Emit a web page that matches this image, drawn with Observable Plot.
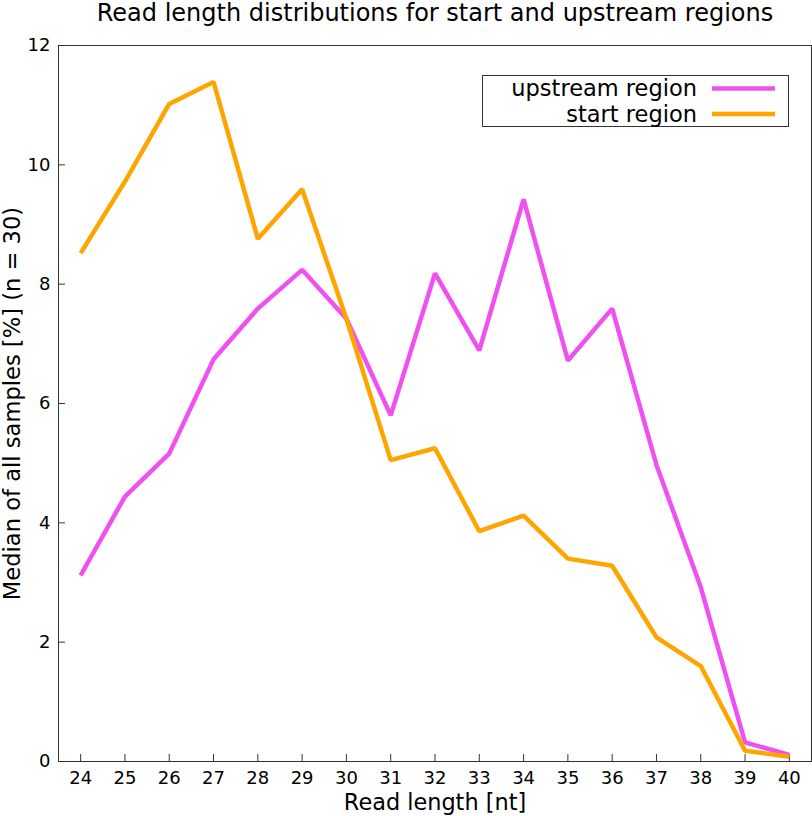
<!DOCTYPE html>
<html>
<head>
<meta charset="utf-8">
<script src="https://cdn.jsdelivr.net/npm/d3@7"></script>
<script src="https://cdn.jsdelivr.net/npm/@observablehq/plot@0.6"></script>
<style>
  html, body { margin: 0; padding: 0; background: #fff; }
  #chart svg { display: block; }
</style>
</head>
<body>
<div id="chart"></div>
<script>
// ---- data ----
const readLengths = [24, 25, 26, 27, 28, 29, 30, 31, 32, 33, 34, 35, 36, 37, 38, 39, 40];
const upstreamRegion = [3.12, 4.44, 5.16, 6.74, 7.59, 8.24, 7.42, 5.80, 8.18, 6.89, 9.42, 6.72, 7.59, 4.97, 2.92, 0.32, 0.11];
const startRegion = [8.52, 9.72, 11.02, 11.39, 8.76, 9.59, 7.42, 5.05, 5.25, 3.86, 4.12, 3.40, 3.28, 2.08, 1.60, 0.18, 0.08];
const seriesNames = ["upstream region", "start region"];
const seriesColors = ["#f050f0", "#ffa500"];
const yTicks = [0, 2, 4, 6, 8, 10, 12];
const xTicks = readLengths;
const titleText = "Read length distributions for start and upstream regions";
const xLabelText = "Read length [nt]";
const yLabelText = "Median of all samples [%] (n = 30)";

const rows = [];
readLengths.forEach((len, i) => {
  rows.push({length: len, value: upstreamRegion[i], series: seriesNames[0]});
});
readLengths.forEach((len, i) => {
  rows.push({length: len, value: startRegion[i], series: seriesNames[1]});
});

const axisColor = "#333";

const chart = Plot.plot({
  width: 812,
  height: 816,
  marginLeft: 58,
  marginRight: 1,
  marginTop: 45,
  marginBottom: 55,
  style: {fontFamily: "DejaVu Sans", fontSize: "18px", color: "#000", background: "#fff", overflow: "visible"},
  x: {domain: [23.5, 40.5], label: null},
  y: {domain: [0, 12], label: null},
  color: {domain: seriesNames, range: seriesColors},
  marks: [
    // inward tick marks
    Plot.axisY(yTicks, {anchor: "left", tickSize: 7, dx: 7, tickFormat: () => "", label: null, stroke: axisColor}),
    Plot.axisX(xTicks, {anchor: "bottom", tickSize: 7, dy: -7, tickFormat: () => "", label: null, stroke: axisColor}),
    // tick labels
    Plot.axisY(yTicks, {anchor: "left", tickSize: 0, tickPadding: 8, label: null, fontSize: 18, tickFormat: d => String(d)}),
    Plot.axisX(xTicks, {anchor: "bottom", tickSize: 0, tickPadding: 10, label: null, fontSize: 18, tickFormat: d => String(d)}),
    Plot.frame({stroke: axisColor}),
    Plot.line(rows, {x: "length", y: "value", z: "series", stroke: "series", strokeWidth: 4.5, strokeLinejoin: "miter", strokeLinecap: "butt"}),
    // titles
    Plot.text([titleText], {frameAnchor: "top", textAnchor: "middle", lineAnchor: "bottom", dy: -25, fontSize: 24}),
    Plot.text([xLabelText], {frameAnchor: "bottom", textAnchor: "middle", lineAnchor: "bottom", dy: 48, fontSize: 22.4}),
    Plot.text([yLabelText], {frameAnchor: "left", textAnchor: "middle", lineAnchor: "bottom", rotate: -90, dx: -39, fontSize: 22.6})
  ]
});

document.getElementById("chart").appendChild(chart);

// ---- legend (drawn inside the plot SVG) ----
const svg = d3.select(chart);
const lg = svg.append("g").attr("class", "legend");
lg.append("rect")
  .attr("x", 482.5).attr("y", 75.5).attr("width", 306).attr("height", 51)
  .attr("fill", "#fff").attr("stroke", axisColor).attr("stroke-width", 1);
seriesNames.forEach((name, i) => {
  const yLine = 88.5 + i * 25.5;
  lg.append("text")
    .attr("x", 697).attr("y", yLine + 7.5)
    .attr("text-anchor", "end")
    .attr("font-size", 22.5)
    .attr("font-family", "DejaVu Sans")
    .attr("fill", "#000")
    .text(name);
  lg.append("line")
    .attr("x1", 712).attr("x2", 775)
    .attr("y1", yLine).attr("y2", yLine)
    .attr("stroke", seriesColors[i]).attr("stroke-width", 4.5);
});
</script>
</body>
</html>
